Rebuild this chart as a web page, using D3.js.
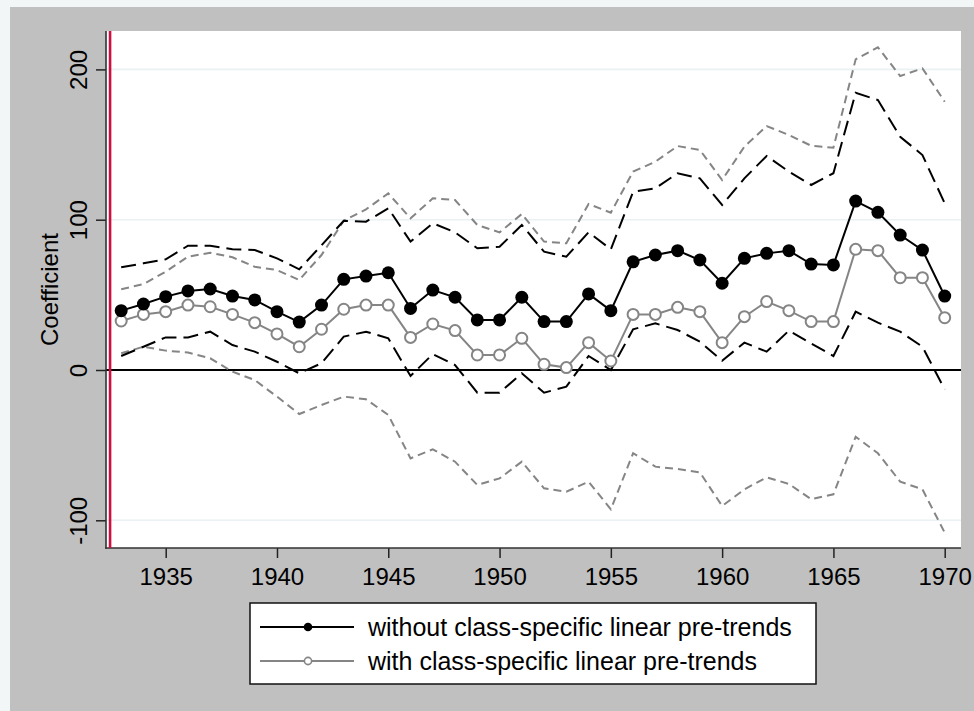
<!DOCTYPE html>
<html>
<head>
<meta charset="utf-8">
<script src="https://cdn.jsdelivr.net/npm/d3@7/dist/d3.min.js"></script>
<style>
  html, body { margin: 0; padding: 0; background: #f3f6f7; }
  svg { display: block; }
  text { font-family: "Liberation Sans", Arial, Helvetica, sans-serif; fill: #000; }
</style>
</head>
<body>
<svg id="chart" width="974" height="711"></svg>
<script>
// ---------------- data ----------------
const years = [1933,1934,1935,1936,1937,1938,1939,1940,1941,1942,1943,1944,1945,1946,1947,1948,1949,1950,1951,1952,
               1953,1954,1955,1956,1957,1958,1959,1960,1961,1962,1963,1964,1965,1966,1967,1968,1969,1970];

// without class-specific linear pre-trends
const coefWithout = [39.5,43.9,48.8,52.6,53.9,49.2,46.6,38.8,31.9,43.2,60.3,62.5,64.7,41.0,53.2,48.4,33.3,33.3,48.4,32.2,
                     32.2,50.6,39.5,72.0,76.5,79.4,73.2,57.7,74.3,77.6,79.4,70.5,69.9,112.4,104.9,89.8,79.8,49.2];
const upperWithout = [68.3,71.0,73.6,82.7,82.7,80.3,79.8,74.3,67.0,83.0,99.3,98.7,107.6,85.4,97.6,91.6,81.0,82.0,96.5,78.7,
                      75.4,91.6,80.3,118.6,120.9,130.9,127.5,109.8,127.5,142.4,132.0,123.1,130.9,184.5,179.6,155.2,143.0,110.9];
const lowerWithout = [9.3,15.5,21.7,21.7,25.5,16.6,12.2,5.5,-2.2,4.5,22.2,25.5,21.1,-4.0,10.6,3.3,-15.1,-15.1,-2.2,-15.1,
                      -11.1,9.3,0.0,27.1,31.0,26.6,18.8,6.2,18.2,12.2,26.2,17.7,9.3,38.8,31.5,25.5,15.5,-12.9];

// with class-specific linear pre-trends
const coefWith = [32.6,37.0,38.8,43.2,42.1,37.0,31.5,24.0,15.5,27.1,40.4,43.2,43.2,21.7,30.6,26.2,10.0,10.0,21.1,3.8,
                  1.6,18.2,6.0,37.0,37.0,41.7,38.8,18.2,35.5,45.5,39.5,32.2,32.2,80.3,79.4,61.4,61.4,34.8];
const upperWith = [53.7,57.2,65.4,75.4,78.0,75.0,68.7,66.5,59.9,76.5,99.3,106.9,117.5,100.9,114.2,113.1,96.5,91.6,103.8,85.4,
                   84.3,110.4,104.7,132.0,138.6,149.0,146.4,126.4,148.6,162.3,156.4,149.2,147.9,206.7,214.7,195.6,200.7,178.5];
const lowerWith = [11.1,15.5,12.9,11.6,7.8,-1.1,-6.7,-17.7,-29.3,-23.3,-17.7,-19.5,-29.9,-58.8,-52.8,-61.0,-76.5,-72.1,-61.0,-78.7,
                   -81.0,-74.3,-92.7,-55.4,-64.3,-65.9,-68.1,-90.5,-79.4,-71.4,-75.8,-86.0,-82.7,-44.4,-55.4,-74.3,-79.4,-108.2];

const xTicks = [1935,1940,1945,1950,1955,1960,1965,1970];
const yTicks = [-100,0,100,200];
const yGrid = [-100,100,200];
const refYear = 1932.5;
const refZero = 0;
const yTitle = "Coefficient";
const legendLabels = ["without class-specific linear pre-trends", "with class-specific linear pre-trends"];

// ---------------- layout ----------------
const svg = d3.select("#chart");
const W = 974, H = 711;
const plot = { left: 106, right: 961, top: 31, bottom: 548 };

const x = d3.scaleLinear().domain([1935, 1970]).range([165.7, 944.7]);
const y = d3.scaleLinear().domain([-100, 200]).range([520.3, 69.4]);

// outer background
svg.append("rect").attr("x", 10).attr("y", 7).attr("width", W - 10).attr("height", H - 7).attr("fill", "#c0c0c0");
// plot region
svg.append("rect").attr("x", plot.left).attr("y", plot.top)
  .attr("width", plot.right - plot.left).attr("height", plot.bottom - plot.top).attr("fill", "#ffffff");

// gridlines
svg.append("g").selectAll("line").data(yGrid).join("line")
  .attr("x1", plot.left).attr("x2", plot.right)
  .attr("y1", d => y(d)).attr("y2", d => y(d))
  .attr("stroke", "#eaf1f3").attr("stroke-width", 1.6);

// zero line
svg.append("line").attr("x1", plot.left).attr("x2", plot.right)
  .attr("y1", y(refZero)).attr("y2", y(refZero))
  .attr("stroke", "#000").attr("stroke-width", 2);

// y axis
const yAxis = d3.axisLeft(y).tickValues(yTicks).tickSize(10).tickFormat(d => String(d));
const gy = svg.append("g").attr("transform", `translate(${plot.left},0)`).call(yAxis);
gy.select(".domain").remove();
gy.selectAll(".tick line").attr("stroke", "#222").attr("stroke-width", 1.5);
gy.selectAll(".tick text")
  .attr("font-size", 24).attr("fill", "#000")
  .attr("text-anchor", "middle")
  .attr("x", null).attr("dy", null)
  .attr("transform", "translate(-19,0) rotate(-90)")
  .attr("y", 0);
svg.append("line").attr("x1", plot.left).attr("x2", plot.left)
  .attr("y1", plot.top).attr("y2", plot.bottom + 0.75)
  .attr("stroke", "#333").attr("stroke-width", 1.6);

// x axis
const xAxis = d3.axisBottom(x).tickValues(xTicks).tickSize(10).tickFormat(d => String(d));
const gx = svg.append("g").attr("transform", `translate(0,${plot.bottom})`).call(xAxis);
gx.select(".domain").remove();
gx.selectAll(".tick line").attr("stroke", "#222").attr("stroke-width", 1.5);
gx.selectAll(".tick text").attr("font-size", 24).attr("fill", "#000").attr("y", 37).attr("dy", null);
svg.append("line").attr("x1", plot.left - 0.75).attr("x2", plot.right)
  .attr("y1", plot.bottom).attr("y2", plot.bottom)
  .attr("stroke", "#333").attr("stroke-width", 1.6);

// y title
svg.append("text").attr("font-size", 24)
  .attr("text-anchor", "middle")
  .attr("transform", `translate(58,${(plot.top + plot.bottom) / 2}) rotate(-90)`)
  .text(yTitle);

// red reference line
svg.append("line").attr("x1", x(refYear)).attr("x2", x(refYear))
  .attr("y1", plot.top).attr("y2", plot.bottom)
  .attr("stroke", "#cc1040").attr("stroke-width", 2.6);

// series
const lineOf = arr => d3.line().x((d, i) => x(years[i])).y(d => y(d))(arr);
const gray = "#858585";

const g = svg.append("g");
g.append("path").attr("d", lineOf(upperWith)).attr("fill", "none").attr("stroke", gray)
  .attr("stroke-width", 2).attr("stroke-dasharray", "8,5");
g.append("path").attr("d", lineOf(lowerWith)).attr("fill", "none").attr("stroke", gray)
  .attr("stroke-width", 2).attr("stroke-dasharray", "8,5");
g.append("path").attr("d", lineOf(upperWithout)).attr("fill", "none").attr("stroke", "#000")
  .attr("stroke-width", 2).attr("stroke-dasharray", "15,7");
g.append("path").attr("d", lineOf(lowerWithout)).attr("fill", "none").attr("stroke", "#000")
  .attr("stroke-width", 2).attr("stroke-dasharray", "15,7");

g.append("path").attr("d", lineOf(coefWith)).attr("fill", "none").attr("stroke", gray).attr("stroke-width", 2);
g.append("g").selectAll("circle").data(coefWith).join("circle")
  .attr("cx", (d, i) => x(years[i])).attr("cy", d => y(d)).attr("r", 5.5)
  .attr("fill", "#fff").attr("stroke", gray).attr("stroke-width", 2);

g.append("path").attr("d", lineOf(coefWithout)).attr("fill", "none").attr("stroke", "#000").attr("stroke-width", 2);
g.append("g").selectAll("circle").data(coefWithout).join("circle")
  .attr("cx", (d, i) => x(years[i])).attr("cy", d => y(d)).attr("r", 6.5)
  .attr("fill", "#000");

// legend
const leg = svg.append("g");
leg.append("rect").attr("x", 250).attr("y", 603).attr("width", 566).attr("height", 81)
  .attr("fill", "#fff").attr("stroke", "#111").attr("stroke-width", 1.5);
const rowsY = [627, 661];
const legColors = ["#000", gray];
legendLabels.forEach((lab, i) => {
  leg.append("line").attr("x1", 260).attr("x2", 354).attr("y1", rowsY[i]).attr("y2", rowsY[i])
    .attr("stroke", legColors[i]).attr("stroke-width", 2);
  if (i === 0) {
    leg.append("circle").attr("cx", 308).attr("cy", rowsY[i]).attr("r", 4.3).attr("fill", "#000");
  } else {
    leg.append("circle").attr("cx", 308).attr("cy", rowsY[i]).attr("r", 3.6)
      .attr("fill", "#fff").attr("stroke", gray).attr("stroke-width", 1.6);
  }
  leg.append("text").attr("x", 368).attr("y", rowsY[i]).attr("dy", "0.35em")
    .attr("font-size", 25).text(lab);
});
</script>
</body>
</html>
